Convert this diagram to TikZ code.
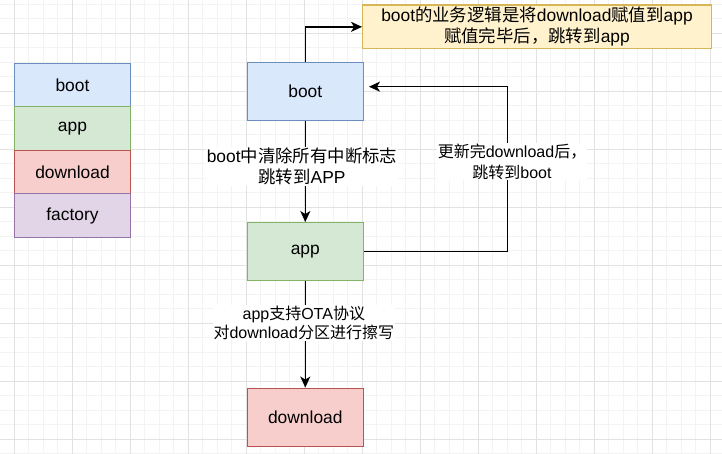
\documentclass[tikz,border=0pt]{standalone}
\usepackage{fontspec}
\setmainfont{Liberation Sans}
\newfontfamily\cjk{Noto Sans CJK SC}
\usetikzlibrary{arrows.meta}
\definecolor{bluefill}{HTML}{DAE8FC}\definecolor{bluedraw}{HTML}{6C8EBF}
\definecolor{greenfill}{HTML}{D5E8D4}\definecolor{greendraw}{HTML}{82B366}
\definecolor{redfill}{HTML}{F8CECC}\definecolor{reddraw}{HTML}{B85450}
\definecolor{purplefill}{HTML}{E1D5E7}\definecolor{purpledraw}{HTML}{9673A6}
\definecolor{yellowfill}{HTML}{FFF2CC}\definecolor{yellowdraw}{HTML}{D6B656}
\definecolor{gridminor}{HTML}{F3F3F3}\definecolor{gridmajor}{HTML}{E2E2E2}
\begin{document}
\begin{tikzpicture}[x=1pt,y=-1pt,
  box/.style={draw, line width=1.3pt, minimum width=116pt, minimum height=58pt, inner sep=0pt,
    font=\fontsize{17.4}{21}\selectfont},
  legbox/.style={draw, line width=1.3pt, minimum width=116pt, minimum height=43.5pt, inner sep=0pt,
    font=\fontsize{17.4}{21}\selectfont},
  elabel/.style={fill=white, inner sep=1pt, align=center, font=\fontsize{16}{19.5}\selectfont},
  conn/.style={line width=1.4pt, -{Stealth[length=11pt,width=10pt,inset=3pt]}}
]
\useasboundingbox (0,0) rectangle (722,454);
\fill[white] (0,0) rectangle (722,454);
% grid
\foreach \i in {0,...,50} {\draw[gridminor, line width=1pt] ({-0.2+14.5*\i},0) -- ({-0.2+14.5*\i},454);}
\foreach \j in {0,...,31} {\draw[gridminor, line width=1pt] (0,{4.3+14.5*\j}) -- (722,{4.3+14.5*\j});}
\foreach \i in {0,...,12} {\draw[gridmajor, line width=1pt] ({14.3+58*\i},0) -- ({14.3+58*\i},454);}
\foreach \j in {0,...,7} {\draw[gridmajor, line width=1pt] (0,{33.3+58*\j}) -- (722,{33.3+58*\j});}
% legend
\node[legbox, fill=bluefill, draw=bluedraw] (lboot) at (72.5,85.05) {boot};
\node[legbox, fill=greenfill, draw=greendraw] (lapp) at (72.5,128.55) {app};
\node[legbox, fill=redfill, draw=reddraw] (ldown) at (72.5,172.05) {download};
\node[legbox, fill=purplefill, draw=purpledraw] (lfact) at (72.5,215.55) {factory};
% main boxes
\node[box, fill=bluefill, draw=bluedraw] (boot) at (305.3,91.7) {boot};
\node[box, fill=greenfill, draw=greendraw] (app) at (305.3,251.7) {app};
\node[box, fill=redfill, draw=reddraw] (down) at (305.3,417.2) {download};
\node[draw=yellowdraw, fill=yellowfill, line width=1.3pt, minimum width=348.6pt, minimum height=43.7pt,
  inner sep=0pt, align=center, font=\fontsize{17.4}{21}\selectfont] (note) at (537,26.85)
  {boot{\cjk 的业务逻辑是将}download{\cjk 赋值到}app\\{\cjk 赋值完毕后，跳转到}app};
% connectors
\coordinate (turn) at (507.7,251.7);
\draw[conn] (boot.north) |- (note.west);
\draw[conn] (boot.south) -- (app.north);
\draw[conn] (app.south) -- (down.north);
\draw[conn, shorten >=5pt] (app.east) -- (turn) |- ([yshift=5pt]boot.east);
% labels
\node[elabel, font=\fontsize{17.4}{21}\selectfont] (l1) at (302,166.6) {boot{\cjk 中清除所有中断标志}\\{\cjk 跳转到}APP};
\node[elabel, font=\fontsize{16}{18.5}\selectfont] (l2) at (303.8,323) {app{\cjk 支持}OTA{\cjk 协议}\\{\cjk 对}download{\cjk 分区进行擦写}};
\node[elabel, font=\fontsize{16}{20.5}\selectfont] (l3) at (512,161.8) {{\cjk 更新完}download{\cjk 后，}\\{\cjk 跳转到}boot};
\end{tikzpicture}
\end{document}
